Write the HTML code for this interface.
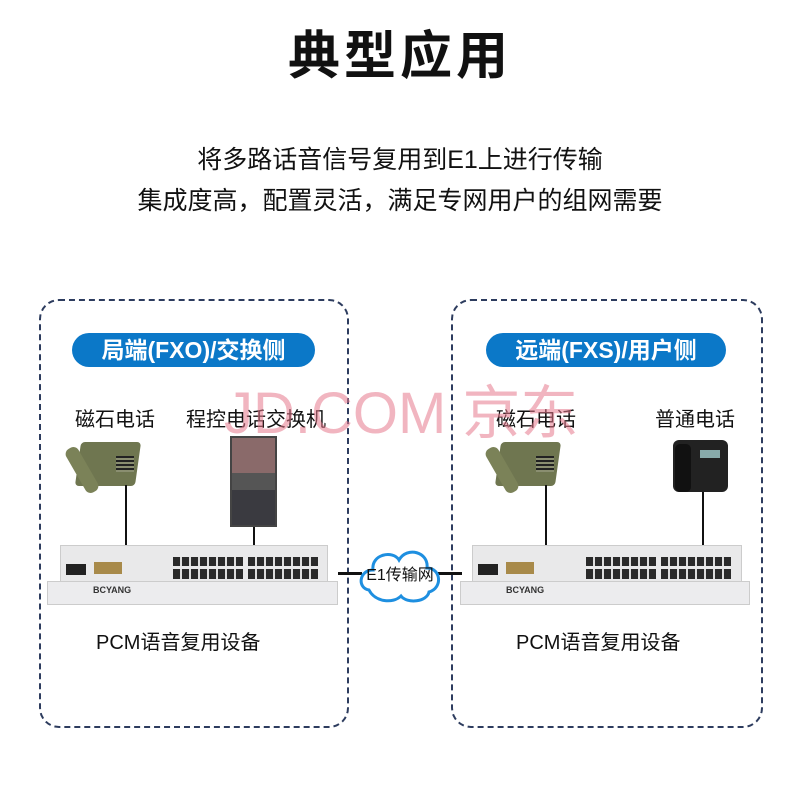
<!DOCTYPE html><html><head><meta charset="utf-8"><style>
body{margin:0;width:800px;height:800px;background:#fff;position:relative;overflow:hidden;font-family:"Liberation Sans","Noto Sans CJK SC",sans-serif;color:#111}
.a{position:absolute}
.box{position:absolute;border:2px dashed #2d3c5e;border-radius:20px}
.pill{position:absolute;background:#0b78c8;color:#fff;border-radius:18px;font-weight:bold;font-size:23px;text-align:center;line-height:34px;height:34px}
.lbl{position:absolute;font-size:20px}
.ln{position:absolute;background:#111}
.ports{position:absolute;height:22px;background:repeating-linear-gradient(90deg,#2a2a2a 0 7px,#ddd 7px 9px),#2a2a2a;-webkit-mask:linear-gradient(#000 0 9px,transparent 9px 12px,#000 12px)}
</style></head><body>
<div class="a" style="left:0;width:800px;top:14px;text-align:center;font-size:52px;font-weight:bold;letter-spacing:4px">典型应用</div>
<div class="a" style="left:0;width:800px;top:140px;text-align:center;font-size:25px">将多路话音信号复用到E1上进行传输</div>
<div class="a" style="left:0;width:800px;top:181px;text-align:center;font-size:25px">集成度高，配置灵活，满足专网用户的组网需要</div>

<div class="box" style="left:39px;top:299px;width:306px;height:425px"></div>
<div class="box" style="left:451px;top:299px;width:308px;height:425px"></div>
<div class="pill" style="left:72px;top:333px;width:243px">局端(FXO)/交换侧</div>
<div class="pill" style="left:486px;top:333px;width:240px">远端(FXS)/用户侧</div>

<div class="lbl" style="left:75px;top:403px">磁石电话</div>
<div class="lbl" style="left:186px;top:403px">程控电话交换机</div>
<div class="lbl" style="left:496px;top:403px">磁石电话</div>
<div class="lbl" style="left:655px;top:403px">普通电话</div>

<div class="a" style="left:78px;top:442px;width:60px;height:44px;background:#6f7650;border-radius:4px;transform:skewX(-8deg)"></div>
<div class="a" style="left:116px;top:456px;width:18px;height:16px;background:repeating-linear-gradient(#222 0 2px,#8a8e70 2px 4px)"></div>
<div class="a" style="left:75px;top:445px;width:14px;height:50px;background:#7b8258;border-radius:6px;transform:rotate(-30deg)"></div>
<div class="a" style="left:498px;top:442px;width:60px;height:44px;background:#6f7650;border-radius:4px;transform:skewX(-8deg)"></div>
<div class="a" style="left:536px;top:456px;width:18px;height:16px;background:repeating-linear-gradient(#222 0 2px,#8a8e70 2px 4px)"></div>
<div class="a" style="left:495px;top:445px;width:14px;height:50px;background:#7b8258;border-radius:6px;transform:rotate(-30deg)"></div>
<div class="a" style="left:230px;top:436px;width:47px;height:91px;background:linear-gradient(#8a6a6a 0 40%,#555 40% 60%,#3a3a40 60%);border:2px solid #444;box-sizing:border-box"></div>
<div class="a" style="left:673px;top:440px;width:55px;height:52px;background:#222;border-radius:6px"></div>
<div class="a" style="left:675px;top:444px;width:16px;height:48px;background:#111;border-radius:5px"></div>
<div class="a" style="left:700px;top:450px;width:20px;height:8px;background:#8aa"></div>

<div class="ln" style="left:125px;top:485px;width:2px;height:60px"></div>
<div class="ln" style="left:253px;top:527px;width:2px;height:18px"></div>
<div class="ln" style="left:545px;top:485px;width:2px;height:60px"></div>
<div class="ln" style="left:702px;top:492px;width:2px;height:53px"></div>

<div class="a" style="left:60px;top:545px;width:266px;height:36px;background:#e9e9ea;border:1px solid #ccc"></div>
<div class="ports" style="left:173px;top:557px;width:70px"></div>
<div class="ports" style="left:248px;top:557px;width:70px"></div>
<div class="a" style="left:66px;top:564px;width:20px;height:11px;background:#222"></div>
<div class="a" style="left:94px;top:562px;width:28px;height:12px;background:#a88a4a"></div>
<div class="a" style="left:47px;top:581px;width:291px;height:24px;background:#ececee;border:1px solid #ccc;font-size:9px;font-weight:bold;color:#333;line-height:16px;padding-left:45px;box-sizing:border-box">BCYANG</div>
<div class="a" style="left:472px;top:545px;width:268px;height:36px;background:#e9e9ea;border:1px solid #ccc"></div>
<div class="ports" style="left:586px;top:557px;width:70px"></div>
<div class="ports" style="left:661px;top:557px;width:70px"></div>
<div class="a" style="left:478px;top:564px;width:20px;height:11px;background:#222"></div>
<div class="a" style="left:506px;top:562px;width:28px;height:12px;background:#a88a4a"></div>
<div class="a" style="left:460px;top:581px;width:290px;height:24px;background:#ececee;border:1px solid #ccc;font-size:9px;font-weight:bold;color:#333;line-height:16px;padding-left:45px;box-sizing:border-box">BCYANG</div>

<div class="ln" style="left:338px;top:572px;width:24px;height:3px"></div>
<div class="ln" style="left:438px;top:572px;width:24px;height:3px"></div>
<svg class="a" style="left:355px;top:540px" width="90" height="68"><path d="M14 50 C2 48 4 30 18 30 C16 14 38 10 44 20 C52 6 74 12 72 28 C86 28 88 48 74 52 C72 62 52 64 46 56 C38 64 20 62 14 50Z" fill="#fff" stroke="#1e8fe0" stroke-width="3"/></svg>
<div class="a" style="left:360px;top:561px;width:80px;text-align:center;font-size:16px">E1传输网</div>

<div class="lbl" style="left:96px;top:626px">PCM语音复用设备</div>
<div class="lbl" style="left:516px;top:626px">PCM语音复用设备</div>

<div class="a" style="left:224px;top:366px;font-size:58px;color:rgba(230,120,140,0.55);white-space:nowrap">JD.COM 京东</div>
</body></html>
